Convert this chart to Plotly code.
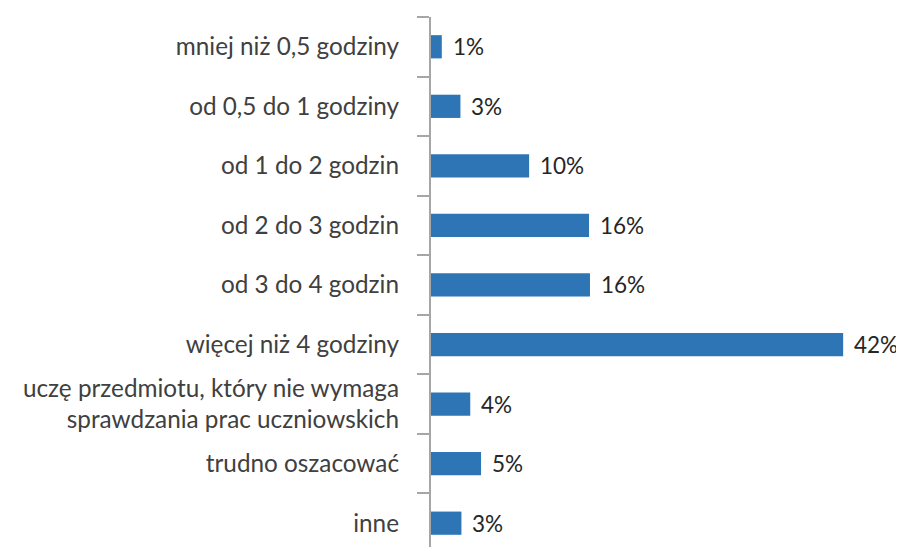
import plotly.graph_objects as go

categories = [
    "mniej niż 0,5 godziny",
    "od 0,5 do 1 godziny",
    "od 1 do 2 godzin",
    "od 2 do 3 godzin",
    "od 3 do 4 godzin",
    "więcej niż 4 godziny",
    "uczę przedmiotu, który nie wymaga<br>sprawdzania prac uczniowskich",
    "trudno oszacować",
    "inne",
]
values = [1.1, 3.0, 10.0, 16.1, 16.2, 42.0, 4.0, 5.1, 3.1]
labels = ["1%", "3%", "10%", "16%", "16%", "42%", "4%", "5%", "3%"]

pos = list(range(len(categories)))
bar_color = "#2E75B6"
font_family = "Lato, 'Open Sans', sans-serif"

fig = go.Figure()
fig.add_trace(go.Bar(
    x=values, y=pos, orientation="h",
    marker=dict(color=bar_color, line=dict(width=0)),
    width=0.39, hoverinfo="skip", cliponaxis=False,
))
# invisible trace to host the tick-mark axis
fig.add_trace(go.Scatter(x=[0], y=[0], yaxis="y2", mode="markers",
                         marker=dict(opacity=0), showlegend=False, hoverinfo="skip"))

annotations = []
for p, v, t in zip(pos, values, labels):
    annotations.append(dict(
        x=v, y=p, xref="x", yref="y", text=t, showarrow=False,
        xanchor="left", yanchor="middle", xshift=9,
        font=dict(family=font_family, size=22.5, color="#262626"),
    ))

yrange = [8.4, -0.5]
fig.update_layout(
    width=896, height=539,
    margin=dict(l=423, r=0, t=9, b=0, autoexpand=False),
    paper_bgcolor="white", plot_bgcolor="white",
    showlegend=False,
    bargap=0.6,
    xaxis=dict(range=[0, 48.2], visible=False, fixedrange=True, automargin=False),
    yaxis=dict(
        range=yrange, tickvals=pos, ticktext=categories,
        ticks="", showgrid=False, zeroline=False, showline=False,
        ticklabelstandoff=31, automargin=False,
        tickfont=dict(family=font_family, size=24.3, color="#404040"),
    ),
    yaxis2=dict(
        range=yrange, overlaying="y", side="left", automargin=False,
        tickvals=[p - 0.5 for p in pos] + [len(pos) - 0.5],
        showticklabels=False, ticks="outside", ticklen=12,
        tickwidth=2, tickcolor="#A6A6A6",
        showline=True, linecolor="#A6A6A6", linewidth=2,
        showgrid=False, zeroline=False,
    ),
    annotations=annotations,
)

fig.write_html("out.html")
